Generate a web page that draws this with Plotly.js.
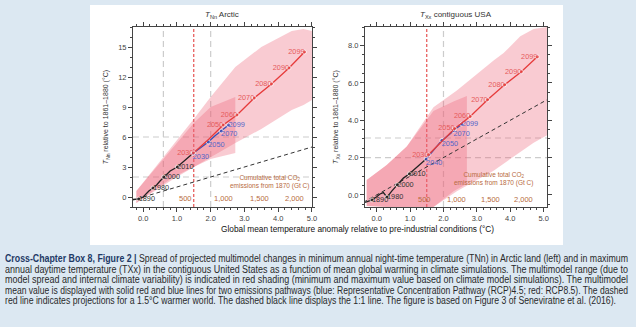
<!DOCTYPE html>
<html>
<head>
<meta charset="utf-8">
<script src="https://cdn.plot.ly/plotly-3.0.1.min.js"></script>
<style>
html,body{margin:0;padding:0;width:636px;height:327px;background:#dce8f2;overflow:hidden;}
#box{position:absolute;left:90px;top:5px;width:473px;height:240px;background:#fff;}
#cap{position:absolute;left:5px;top:254px;width:623px;font-family:"Liberation Sans",Arial,sans-serif;font-size:10px;line-height:10.6px;color:#2a2a2a;}
#cap div{white-space:nowrap;height:10.6px;}
#cap span.l{display:inline-block;transform-origin:0 50%;}
#cap b{color:#1f3a66;}
</style>
</head>
<body>
<div id="box"><div id="plot" style="width:473px;height:240px;"></div></div>
<div id="cap">
<div><span class="l" data-w="623"><b>Cross-Chapter Box 8, Figure 2 |</b> Spread of projected multimodel changes in minimum annual night-time temperature (TNn) in Arctic land (left) and in maximum</span></div>
<div><span class="l" data-w="623">annual daytime temperature (TXx) in the contiguous United States as a function of mean global warming in climate simulations. The multimodel range (due to</span></div>
<div><span class="l" data-w="623">model spread and internal climate variability) is indicated in red shading (minimum and maximum value based on climate model simulations). The multimodel</span></div>
<div><span class="l" data-w="623">mean value is displayed with solid red and blue lines for two emissions pathways (blue: Representative Concentration Pathway (RCP)4.5; red: RCP8.5). The dashed</span></div>
<div><span class="l" data-w="611">red line indicates projections for a 1.5°C warmer world. The dashed black line displays the 1:1 line. The figure is based on Figure 3 of Seneviratne et al. (2016).</span></div>
</div>
<script>
// ---------- Left panel: TNn Arctic ----------
var arcBand85X = [-0.2, 0.3, 0.9, 1.5, 2.0, 2.73, 3.5, 4.4, 4.75, 5.0];
var arcBand85Hi = [0.6, 2.7, 5.3, 7.8, 10.0, 13.0, 15.0, 16.6, 16.8, 16.6];
var arcBand85Lo = [-0.6, 0.5, 1.8, 3.0, 4.0, 5.4, 6.8, 8.7, 9.2, 9.7];
var arcBand45X = [-0.2, 0.3, 0.9, 1.5, 2.0, 2.73];
var arcBand45Hi = [0.6, 2.6, 5.0, 7.4, 9.0, 10.0];
var arcBand45Lo = [-0.6, 0.6, 2.0, 3.0, 3.8, 4.4];
var arcHistX = [-0.3, -0.13, 0.0, 0.08, 0.17, 0.29, 0.4, 0.5, 0.61, 0.8, 1.01, 1.2, 1.47];
var arcHistY = [-0.25, -0.2, 0.0, 0.3, 0.6, 0.9, 1.2, 1.6, 2.0, 2.6, 3.0, 3.6, 4.35];
var arcHistLbl = ['', '1890', '', '', '', '1980', '', '', '2000', '', '2010', '', ''];
var arc45X = [1.47, 1.7, 1.93, 2.12, 2.31, 2.42, 2.48, 2.53];
var arc45Y = [4.35, 4.9, 5.5, 6.1, 6.6, 6.9, 7.1, 7.2];
var arc45Lbl = ['2030', '', '2050', '', '2070', '', '', '2099'];
var arc85X = [1.49, 1.95, 2.37, 2.78, 3.29, 3.80, 4.32, 4.78];
var arc85Y = [4.4, 5.8, 7.2, 8.2, 9.9, 11.3, 12.9, 14.5];
var arc85Lbl = ['2030', '', '2050', '2060', '2070', '2080', '2090', '2099'];
var arcGrayX = [0.6, 2.0];
var arcGrayY = [2, 6];
var arcCo2X = [1.24, 2.38, 3.46, 4.47];

// ---------- Right panel: TXx contiguous USA ----------
var usaBand85X = [-0.3, 0.3, 0.9, 1.7, 2.4, 3.0, 3.5, 3.8, 4.3, 4.7, 5.1];
var usaBand85Hi = [0.8, 1.6, 2.6, 4.7, 5.6, 6.5, 7.2, 7.6, 8.5, 8.9, 9.0];
var usaBand85Lo = [-0.6, -0.65, -0.65, -0.65, 0.2, 0.8, 1.3, 1.7, 2.3, 2.8, 3.2];
var usaBand45X = [-0.3, 0.3, 0.9, 1.7, 2.3, 2.7];
var usaBand45Hi = [0.8, 1.6, 2.6, 4.5, 5.0, 5.3];
var usaBand45Lo = [-0.6, -0.65, -0.65, -0.65, 0.2, 0.6];
var usaHistX = [-0.35, -0.14, 0.0, 0.1, 0.2, 0.31, 0.45, 0.62, 0.8, 0.98, 1.2, 1.48];
var usaHistY = [-0.4, -0.27, -0.1, 0.05, 0.12, -0.12, 0.2, 0.54, 0.9, 1.13, 1.5, 1.92];
var usaHistLbl = ['', '1890', '', '', '', '1980', '', '2000', '', '2010', '', ''];
var usa45X = [1.48, 1.95, 2.15, 2.30, 2.42, 2.5, 2.55];
var usa45Y = [1.92, 2.92, 3.2, 3.46, 3.62, 3.72, 3.8];
var usa45Lbl = ['2040', '2050', '', '2070', '', '', '2099'];
var usa85X = [1.55, 1.95, 2.33, 2.80, 3.32, 3.83, 4.33, 4.81];
var usa85Y = [2.15, 2.85, 3.55, 4.2, 5.1, 5.9, 6.6, 7.4];
var usa85Lbl = ['2030', '', '2050', '2060', '2070', '2080', '2090', '2099'];
var usaGrayX = [2.0];
var usaGrayY = [2.0, 3.05];
var usaCo2X = [1.43, 2.40, 3.40, 4.40];

var co2Labels = ['500', '1,000', '1,500', '2,000'];
var oneToOne = [-0.4, 5.2];
var warming15 = 1.5;

var RED = '#e63b3b', BLUE = '#3550b8', BLK = '#222', CO2C = '#b76a3e';
var FONT = 'Liberation Sans, Arial, sans-serif';

function band(xs, hi, lo, xa, ya, col) {
  return {x: xs.concat(xs.slice().reverse()), y: hi.concat(lo.slice().reverse()),
    xaxis: xa, yaxis: ya, mode: 'lines', fill: 'toself', fillcolor: col,
    line: {width: 0}, hoverinfo: 'skip', showlegend: false};
}
// tpos: position for every label; lastPos: position of the final (end-of-century) label
function series(xs, ys, lbl, xa, ya, col, tcol, tpos, lastPos) {
  var out = [{x: xs, y: ys, xaxis: xa, yaxis: ya, mode: 'lines+markers',
    line: {color: col, width: 1.3}, marker: {color: col, size: lbl.map(function(t){return t ? 4 : 0;})},
    showlegend: false}];
  var lx = [], ly = [], lt = [];
  lbl.forEach(function(t, i){ if (t) { lx.push(xs[i]); ly.push(ys[i]); lt.push(t); } });
  var pos = lt.map(function(t, i){ return (lastPos && i === lt.length - 1) ? lastPos : tpos; });
  out.push({x: lx, y: ly, text: lt, xaxis: xa, yaxis: ya, mode: 'text', textposition: pos,
    textfont: {family: FONT, size: 7.3, color: tcol}, cliponaxis: false, showlegend: false});
  return out;
}
var BANDC = 'rgba(236,96,118,0.33)';
var DASH11 = {color: '#333', width: 1, dash: '4px,3px'};
var traces = [].concat(
  [band(arcBand85X, arcBand85Hi, arcBand85Lo, 'x', 'y', BANDC),
   band(arcBand45X, arcBand45Hi, arcBand45Lo, 'x', 'y', BANDC),
   {x: oneToOne, y: oneToOne, xaxis: 'x', yaxis: 'y', mode: 'lines', line: DASH11, showlegend: false}],
  series(arcHistX, arcHistY, arcHistLbl, 'x', 'y', BLK, '#333', 'middle right'),
  series(arc45X, arc45Y, arc45Lbl, 'x', 'y', BLUE, '#5466c8', 'bottom right', 'middle right'),
  series(arc85X, arc85Y, arc85Lbl, 'x', 'y', RED, '#e65a5a', 'middle left'),
  [band(usaBand85X, usaBand85Hi, usaBand85Lo, 'x2', 'y2', BANDC),
   band(usaBand45X, usaBand45Hi, usaBand45Lo, 'x2', 'y2', BANDC),
   {x: oneToOne, y: oneToOne, xaxis: 'x2', yaxis: 'y2', mode: 'lines', line: DASH11, showlegend: false}],
  series(usaHistX, usaHistY, usaHistLbl, 'x2', 'y2', BLK, '#333', 'middle right'),
  series(usa45X, usa45Y, usa45Lbl, 'x2', 'y2', BLUE, '#5466c8', 'bottom right', 'middle right'),
  series(usa85X, usa85Y, usa85Lbl, 'x2', 'y2', RED, '#e65a5a', 'middle left')
);

var shapes = [];
function vline(xv, xa, col, dash, w) {
  shapes.push({type: 'line', xref: xa, yref: xa.replace('x', 'y') + ' domain', x0: xv, x1: xv, y0: 0, y1: 1,
    line: {color: col, width: w, dash: dash}, layer: 'below'});
}
function hline(yv, ya, col) {
  shapes.push({type: 'line', yref: ya, xref: ya.replace('y', 'x') + ' domain', y0: yv, y1: yv, x0: 0, x1: 1,
    line: {color: col, width: 1.2, dash: '6px,4px'}, layer: 'below'});
}
arcGrayX.forEach(function(v){ vline(v, 'x', '#cccccc', '6px,4px', 1.2); });
arcGrayY.forEach(function(v){ hline(v, 'y', '#cccccc'); });
usaGrayX.forEach(function(v){ vline(v, 'x2', '#cccccc', '6px,4px', 1.2); });
usaGrayY.forEach(function(v){ hline(v, 'y2', '#cccccc'); });
vline(warming15, 'x', '#e03030', '3px,2px', 1);
vline(warming15, 'x2', '#e03030', '3px,2px', 1);

var annotations = [];
co2Labels.forEach(function(t, i){
  annotations.push({xref: 'x', yref: 'y', x: arcCo2X[i], y: -0.1, text: t, showarrow: false, font: {family: FONT, size: 7.5, color: CO2C}});
  annotations.push({xref: 'x2', yref: 'y2', x: usaCo2X[i], y: -0.23, text: t, showarrow: false, font: {family: FONT, size: 7.5, color: CO2C}});
});
annotations.push({xref: 'x', yref: 'y', x: 3.73, y: 1.5, text: 'Cumulative total CO<sub>2</sub><br>emissions from 1870 (Gt C)', showarrow: false, font: {family: FONT, size: 6.5, color: CO2C}});
annotations.push({xref: 'x2', yref: 'y2', x: 3.5, y: 0.85, text: 'Cumulative total CO<sub>2</sub><br>emissions from 1870 (Gt C)', showarrow: false, font: {family: FONT, size: 6.5, color: CO2C}});
annotations.push({xref: 'x domain', yref: 'paper', x: 0.5, y: 0.958, yanchor: 'middle', text: '<i>T</i><sub>Nn</sub> Arctic', showarrow: false, font: {family: FONT, size: 8, color: '#333'}});
annotations.push({xref: 'x2 domain', yref: 'paper', x: 0.5, y: 0.958, yanchor: 'middle', text: '<i>T</i><sub>Xx</sub> contiguous USA', showarrow: false, font: {family: FONT, size: 8, color: '#333'}});
annotations.push({xref: 'paper', yref: 'paper', x: 0.565, y: 0.066, yanchor: 'middle', text: 'Global mean temperature anomaly relative to pre-industrial conditions (°C)', showarrow: false, font: {family: FONT, size: 8.3, color: '#111'}});

function ax(extra) {
  var base = {showgrid: false, zeroline: false, showline: true, linecolor: '#444', linewidth: 1, mirror: 'ticks',
    ticks: 'outside', ticklen: 4, tickcolor: '#444', tickwidth: 1, tickfont: {family: FONT, size: 7.5, color: '#444'}};
  for (var k in extra) base[k] = extra[k];
  return base;
}
var layout = {
  width: 473, height: 240, margin: {l: 0, r: 0, t: 0, b: 0},
  paper_bgcolor: '#fff', plot_bgcolor: 'rgba(0,0,0,0)', showlegend: false,
  xaxis: ax({domain: [0.0909, 0.4693], range: [-0.3, 5.0], dtick: 1, tick0: 0, tickformat: '.1f', minor: {ticks: 'outside', ticklen: 2, dtick: 0.2, tickcolor: '#444'}, anchor: 'y'}),
  yaxis: ax({domain: [0.1583, 0.9083], range: [-1, 17], dtick: 3, tick0: 0, anchor: 'x', minor: {ticks: 'outside', ticklen: 2, dtick: 1, tickcolor: '#444'},
    title: {text: '<i>T</i><sub>Nn</sub> relative to 1861–1880 (°C)', font: {family: FONT, size: 7, color: '#333'}, standoff: 8}}),
  xaxis2: ax({domain: [0.5814, 0.9662], range: [-0.35, 5.1], dtick: 1, tick0: 0, tickformat: '.1f', minor: {ticks: 'outside', ticklen: 2, dtick: 0.2, tickcolor: '#444'}, anchor: 'y2'}),
  yaxis2: ax({domain: [0.1583, 0.9083], range: [-0.65, 9.0], dtick: 2, tick0: 0, tickformat: '.1f', anchor: 'x2', minor: {ticks: 'outside', ticklen: 2, dtick: 0.5, tickcolor: '#444'},
    title: {text: '<i>T</i><sub>Xx</sub> relative to 1861–1880 (°C)', font: {family: FONT, size: 7, color: '#333'}, standoff: 8}}),
  shapes: shapes, annotations: annotations
};
Plotly.newPlot('plot', traces, layout, {displayModeBar: false, staticPlot: true});

document.querySelectorAll('#cap span.l').forEach(function(s){
  var w = s.getBoundingClientRect().width;
  var target = parseFloat(s.getAttribute('data-w'));
  s.style.transform = 'scaleX(' + (target / w) + ')';
});
</script>
</body>
</html>
